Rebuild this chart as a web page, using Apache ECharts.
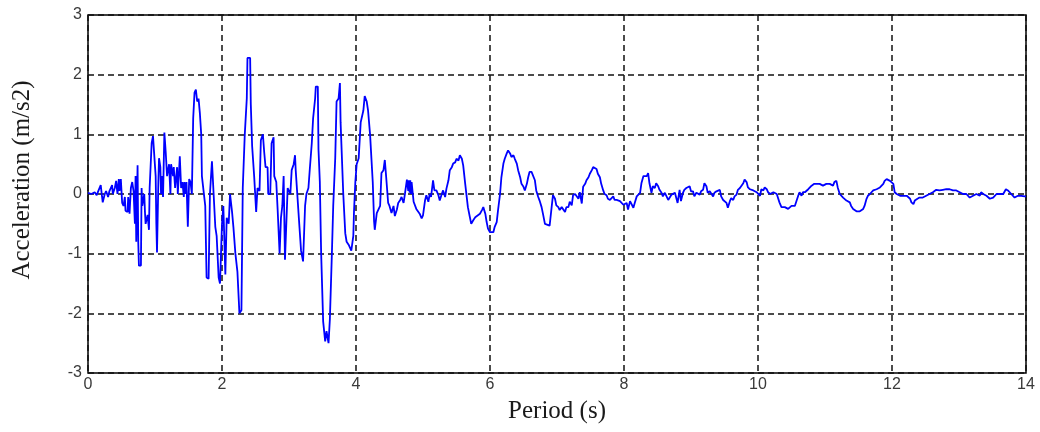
<!DOCTYPE html>
<html>
<head>
<meta charset="utf-8">
<title>Acceleration record</title>
<script src="https://cdn.jsdelivr.net/npm/echarts@6/dist/echarts.min.js"></script>
<style>
  html, body { margin: 0; padding: 0; background: #ffffff; }
  #chart { width: 1040px; height: 432px; }
</style>
</head>
<body>
<div id="chart"></div>
<script>
// Ground acceleration record: sample times (s) and accelerations (m/s2)
const timeSec = [
  0.00,0.05,0.10,0.13,0.15,0.19,0.21,0.22,0.25,0.27,0.30,0.32,0.36,0.37,0.40,0.42,0.44,0.46,0.47,0.49,
  0.51,0.53,0.55,0.56,0.59,0.60,0.62,0.64,0.66,0.68,0.70,0.71,0.72,0.74,0.75,0.76,0.79,0.80,0.81,0.84,
  0.85,0.86,0.89,0.91,0.92,0.95,0.97,0.99,1.01,1.02,1.03,1.05,1.06,1.08,1.09,1.10,1.12,1.14,1.16,1.18,
  1.19,1.21,1.23,1.24,1.27,1.28,1.30,1.33,1.34,1.36,1.37,1.39,1.41,1.43,1.44,1.46,1.47,1.49,1.51,1.53,
  1.55,1.57,1.59,1.61,1.63,1.65,1.67,1.69,1.70,1.72,1.75,1.77,1.80,1.82,1.85,1.87,1.90,1.92,1.95,1.97,
  2.00,2.02,2.05,2.07,2.10,2.12,2.15,2.17,2.20,2.23,2.26,2.29,2.31,2.34,2.37,2.38,2.42,2.43,2.45,2.48,
  2.50,2.51,2.53,2.56,2.58,2.61,2.63,2.65,2.68,2.69,2.72,2.74,2.77,2.78,2.81,2.83,2.86,2.88,2.90,2.92,
  2.94,2.96,2.98,3.02,3.04,3.07,3.09,3.10,3.12,3.15,3.18,3.21,3.24,3.26,3.29,3.31,3.34,3.36,3.39,3.40,
  3.43,3.44,3.46,3.48,3.51,3.54,3.56,3.59,3.61,3.64,3.66,3.69,3.71,3.74,3.76,3.77,3.81,3.84,3.86,3.89,
  3.91,3.93,3.96,3.97,3.99,4.01,4.04,4.07,4.11,4.13,4.16,4.18,4.21,4.23,4.25,4.27,4.28,4.31,4.33,4.36,
  4.38,4.41,4.43,4.45,4.48,4.50,4.53,4.56,4.58,4.61,4.63,4.66,4.68,4.71,4.73,4.76,4.78,4.79,4.80,4.81,
  4.82,4.83,4.86,4.90,4.95,4.98,5.00,5.03,5.05,5.08,5.10,5.12,5.15,5.17,5.20,5.23,5.25,5.28,5.30,5.33,
  5.35,5.38,5.40,5.43,5.45,5.48,5.50,5.53,5.55,5.58,5.60,5.63,5.65,5.67,5.70,5.72,5.75,5.78,5.80,5.85,
  5.88,5.90,5.93,5.95,5.97,6.00,6.05,6.07,6.10,6.12,6.15,6.17,6.20,6.22,6.25,6.27,6.30,6.32,6.35,6.37,
  6.40,6.42,6.45,6.47,6.50,6.52,6.55,6.57,6.59,6.62,6.64,6.67,6.69,6.72,6.74,6.77,6.79,6.82,6.84,6.89,
  6.92,6.94,6.97,6.99,7.02,7.04,7.07,7.09,7.12,7.14,7.17,7.19,7.22,7.24,7.27,7.29,7.32,7.34,7.37,7.39,
  7.42,7.44,7.47,7.49,7.52,7.54,7.56,7.59,7.61,7.64,7.66,7.69,7.71,7.74,7.76,7.79,7.81,7.84,7.86,7.89,
  7.91,7.94,7.96,7.99,8.01,8.04,8.06,8.09,8.11,8.14,8.16,8.19,8.21,8.24,8.26,8.29,8.31,8.34,8.36,8.38,
  8.41,8.43,8.46,8.48,8.51,8.53,8.56,8.58,8.61,8.63,8.66,8.68,8.71,8.73,8.76,8.78,8.80,8.83,8.85,8.88,
  8.90,8.93,8.95,8.98,9.00,9.03,9.05,9.08,9.10,9.13,9.15,9.18,9.20,9.23,9.25,9.28,9.30,9.33,9.35,9.38,
  9.40,9.43,9.45,9.48,9.50,9.53,9.55,9.58,9.60,9.63,9.65,9.68,9.70,9.73,9.75,9.78,9.80,9.83,9.85,9.88,
  9.90,9.93,9.95,9.98,10.00,10.03,10.05,10.08,10.10,10.13,10.15,10.18,10.20,10.23,10.25,10.28,10.30,10.32,10.35,10.37,
  10.40,10.42,10.45,10.47,10.50,10.52,10.55,10.57,10.60,10.62,10.65,10.67,10.70,10.72,10.75,10.77,10.80,10.82,10.84,10.87,
  10.89,10.92,10.94,10.97,10.99,11.02,11.04,11.07,11.09,11.12,11.14,11.17,11.19,11.22,11.24,11.27,11.29,11.32,11.34,11.37,
  11.39,11.42,11.44,11.47,11.49,11.52,11.54,11.57,11.59,11.62,11.64,11.67,11.69,11.72,11.74,11.77,11.79,11.82,11.84,11.87,
  11.89,11.92,11.94,11.97,11.99,12.02,12.04,12.07,12.09,12.12,12.14,12.17,12.19,12.22,12.24,12.27,12.29,12.32,12.34,12.36,
  12.38,12.41,12.43,12.46,12.48,12.51,12.53,12.56,12.58,12.61,12.63,12.66,12.68,12.71,12.73,12.76,12.78,12.81,12.83,12.86,
  12.88,12.91,12.93,12.96,12.98,13.01,13.03,13.06,13.08,13.11,13.13,13.16,13.18,13.21,13.23,13.26,13.28,13.31,13.33,13.36,
  13.38,13.41,13.43,13.46,13.48,13.51,13.53,13.56,13.58,13.61,13.63,13.66,13.68,13.70,13.73,13.75,13.78,13.80,13.83,13.85,
  13.88,13.90,13.93,13.95,13.98,14.00
];

const accelMs2 = [
  0.02,0.00,0.03,-0.02,0.04,0.15,-0.05,-0.14,0.00,0.05,-0.05,0.05,0.15,0.00,0.10,0.22,0.00,0.25,0.05,0.25,
  -0.15,-0.20,-0.05,-0.28,-0.30,-0.05,-0.33,0.10,0.20,0.05,-0.50,0.30,-0.80,0.48,-0.80,-1.20,-1.20,0.10,-0.20,0.00,
  -0.30,-0.50,-0.35,-0.60,0.10,0.85,0.97,1.00,0.30,-0.50,-0.98,0.20,0.60,0.45,0.00,0.30,-0.05,1.03,0.70,0.30,
  0.30,0.50,0.00,0.50,0.30,0.45,0.10,0.45,0.00,0.40,0.63,0.10,0.20,-0.05,0.20,0.00,0.20,-0.55,0.25,0.20,
  0.00,1.27,1.70,1.75,1.55,1.60,1.35,1.00,0.30,0.30,-0.20,-1.40,-1.42,0.00,0.55,0.55,-0.55,-0.70,-1.40,-1.50,
  -0.50,-0.20,-1.35,-0.40,-0.50,0.00,-0.30,-0.55,-1.00,-1.30,-2.00,-1.95,0.10,1.00,1.60,2.28,2.28,1.50,0.80,0.30,
  0.30,-0.30,0.10,0.05,0.90,1.00,0.70,0.45,0.45,0.00,0.00,0.85,0.95,0.30,0.20,-0.25,-1.00,-0.40,-0.20,0.30,
  -1.10,-0.50,0.10,0.00,0.40,0.50,0.65,0.40,0.40,-0.45,-0.95,-1.13,-0.20,0.00,0.10,0.41,0.85,1.27,1.60,1.80,
  1.80,0.75,0.21,-1.00,-2.14,-2.47,-2.30,-2.50,-2.10,-1.00,-0.20,0.60,1.55,1.60,1.86,1.20,0.00,-0.66,-0.80,-0.85,
  -0.90,-0.95,-0.70,-0.30,0.20,0.50,0.60,1.20,1.40,1.64,1.55,1.40,1.00,0.60,0.20,-0.46,-0.60,-0.32,-0.30,-0.20,
  0.35,0.40,0.57,0.29,-0.15,-0.20,-0.32,-0.20,-0.37,-0.26,-0.15,-0.10,-0.05,-0.15,0.00,0.24,0.05,0.23,0.02,0.23,
  0.00,0.20,-0.13,-0.25,-0.33,-0.41,-0.36,-0.11,-0.02,-0.13,0.00,-0.05,0.23,0.06,0.06,-0.02,-0.11,0.00,0.06,-0.05,
  0.09,0.23,0.40,0.45,0.51,0.53,0.59,0.56,0.65,0.59,0.48,0.17,0.17,-0.22,-0.39,-0.50,-0.44,-0.39,-0.36,-0.33,
  -0.27,-0.22,-0.33,-0.47,-0.58,-0.64,-0.64,-0.55,-0.47,-0.27,0.00,0.28,0.51,0.59,0.68,0.73,0.68,0.62,0.65,0.59,
  0.51,0.40,0.28,0.17,0.12,0.06,0.17,0.28,0.37,0.37,0.34,0.23,0.06,-0.05,-0.11,-0.22,-0.33,-0.50,-0.53,-0.53,
  -0.22,-0.02,-0.08,-0.19,-0.22,-0.27,-0.22,-0.19,-0.30,-0.22,-0.22,-0.13,-0.19,-0.02,0.00,-0.02,-0.08,0.03,-0.16,0.12,
  0.17,0.23,0.28,0.34,0.40,0.45,0.48,0.42,0.34,0.28,0.17,0.06,0.00,-0.02,-0.08,-0.10,-0.10,-0.04,-0.10,-0.10,
  -0.07,-0.12,-0.15,-0.18,-0.21,-0.15,-0.26,-0.12,-0.10,-0.23,-0.15,-0.04,-0.01,0.02,0.18,0.30,0.32,0.30,0.35,0.18,
  0.02,0.13,0.10,0.18,0.13,0.07,0.02,-0.04,0.02,0.045,-0.10,-0.12,-0.01,-0.04,0.02,0.045,-0.15,0.07,-0.12,0.02,
  0.07,0.10,0.07,0.13,0.045,0.045,-0.04,0.02,0.045,-0.01,0.045,0.07,0.18,0.13,0.02,0.045,0.02,-0.04,0.02,0.045,
  0.02,0.07,-0.04,-0.10,-0.07,-0.15,-0.23,-0.12,-0.07,-0.10,-0.04,-0.01,0.07,0.10,0.13,0.18,0.24,0.20,0.11,0.08,
  0.06,0.06,0.08,0.03,0.00,-0.03,0.08,0.06,0.11,0.08,0.03,0.00,-0.03,0.03,0.00,0.00,-0.03,-0.14,-0.22,-0.25,
  -0.22,-0.22,-0.25,-0.22,-0.20,-0.20,-0.20,-0.17,-0.03,0.03,-0.03,0.03,0.03,0.06,0.08,0.11,0.14,0.17,0.17,0.17,
  0.14,0.17,0.17,0.14,0.17,0.17,0.17,0.17,0.17,0.14,0.20,0.22,0.11,0.00,-0.03,-0.06,-0.08,-0.11,-0.11,-0.14,
  -0.20,-0.25,-0.28,-0.29,-0.29,-0.29,-0.28,-0.25,-0.20,-0.08,-0.03,0.00,0.03,0.06,0.06,0.08,0.08,0.11,0.11,0.17,
  0.22,0.25,0.25,0.22,0.22,0.17,0.03,0.00,0.00,-0.03,0.00,-0.03,0.00,-0.03,-0.06,-0.08,-0.14,-0.17,-0.11,-0.08,
  -0.08,-0.06,-0.07,-0.06,-0.06,-0.03,-0.06,0.00,0.00,0.03,0.06,0.07,0.06,0.06,0.06,0.07,0.08,0.08,0.08,0.08,
  0.07,0.06,0.06,0.06,0.03,0.03,0.03,0.00,0.00,0.00,-0.03,-0.06,-0.08,-0.03,0.00,0.00,-0.03,-0.03,0.03,0.00,
  0.00,-0.03,-0.06,-0.08,-0.08,-0.06,-0.03,0.00,0.00,0.00,0.00,0.00,0.03,0.08,0.06,0.03,0.00,-0.03,-0.06,-0.06,
  -0.03,-0.03,-0.03,-0.04,-0.04,-0.04
];

// Axis settings
const xRange = [0, 14];
const xStep = 2;
const yRange = [-3, 3];
const yStep = 1;
const xTitle = 'Period (s)';
const yTitle = 'Acceleration (m/s2)';

const points = timeSec.map((t, i) => [t, accelMs2[i]]);

const chart = echarts.init(document.getElementById('chart'), null, { renderer: 'canvas' });

const gridLine = {
  show: true,
  lineStyle: { color: '#111111', width: 1.5, type: [6, 4] }
};
const tickText = {
  color: '#3a3a3a',
  fontFamily: 'Liberation Sans, Arial, sans-serif',
  fontSize: 16
};
const titleFont = '25px "Liberation Serif", "Times New Roman", serif';

chart.setOption({
  backgroundColor: '#ffffff',
  animation: false,
  grid: {
    left: 88, right: 14, top: 15, bottom: 59,
    show: true, borderColor: '#000000', borderWidth: 1.5, backgroundColor: '#ffffff'
  },
  // axis titles placed as free text so the vertical one can sit slightly above centre
  graphic: [
    {
      type: 'text',
      x: 557, y: 411,
      style: {
        text: xTitle, font: titleFont, fill: '#1a1a1a',
        align: 'center', verticalAlign: 'middle'
      }
    },
    {
      type: 'text',
      x: 22, y: 180,
      rotation: Math.PI / 2,
      style: {
        text: yTitle, font: titleFont, fill: '#1a1a1a',
        align: 'center', verticalAlign: 'middle'
      }
    }
  ],
  xAxis: {
    type: 'value',
    min: xRange[0], max: xRange[1], interval: xStep,
    axisLine: { show: false },
    axisTick: { show: false },
    axisLabel: Object.assign({ margin: 4 }, tickText),
    splitLine: gridLine
  },
  yAxis: {
    type: 'value',
    min: yRange[0], max: yRange[1], interval: yStep,
    axisLine: { show: false },
    axisTick: { show: false },
    axisLabel: Object.assign({ margin: 6 }, tickText),
    splitLine: gridLine
  },
  series: [{
    type: 'line',
    data: points,
    showSymbol: false,
    symbol: 'none',
    lineStyle: { color: '#0000ff', width: 1.8 },
    z: 1
  }]
});
</script>
</body>
</html>
